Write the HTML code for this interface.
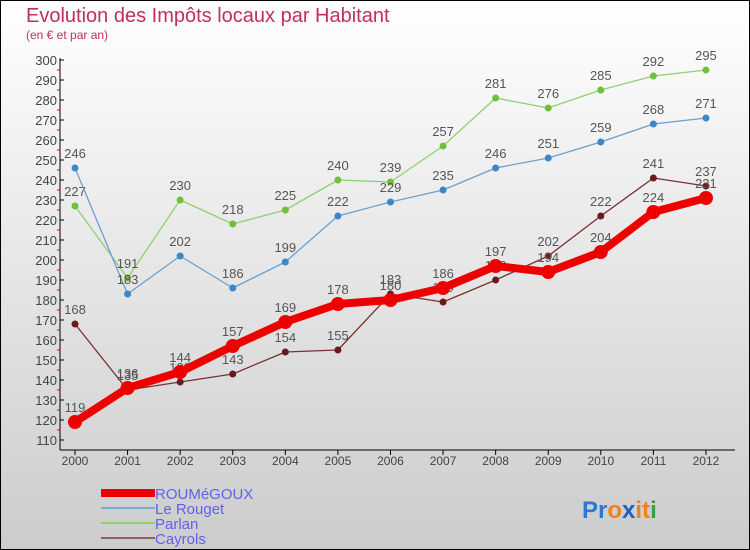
<!DOCTYPE html>
<html><head><meta charset="utf-8"><style>
body{margin:0}
#c{width:750px;height:550px;position:relative;overflow:hidden}
svg text{font-family:"Liberation Sans",sans-serif}
</style></head><body>
<div id="c">
<svg id="s" width="750" height="550" xmlns="http://www.w3.org/2000/svg">
<defs><linearGradient id="bg" x1="0" y1="0" x2="0" y2="1"><stop offset="0" stop-color="#ffffff"/><stop offset="1" stop-color="#cccccc"/></linearGradient></defs>
<rect x="0.5" y="0.5" width="749" height="549" fill="url(#bg)" stroke="#000"/>
<text x="26" y="22" font-size="20" fill="#c0305a">Evolution des Impôts locaux par Habitant</text>
<text x="26" y="39" font-size="12" fill="#c0305a">(en € et par an)</text>
<g id="axes"></g><g id="series"></g>
<g>
<rect x="101" y="489" width="54" height="8" fill="#ee0000"/>
<text x="155" y="499" font-size="15" fill="#6060ee">ROUMéGOUX</text>
<rect x="101" y="507" width="54" height="2" fill="#7aaad0"/>
<text x="155" y="514" font-size="15" fill="#6060ee">Le Rouget</text>
<rect x="101" y="522" width="54" height="2" fill="#90d070"/>
<text x="155" y="529" font-size="15" fill="#6060ee">Parlan</text>
<rect x="101" y="537" width="54" height="2" fill="#906060"/>
<text x="155" y="544" font-size="15" fill="#6060ee">Cayrols</text>
</g>
<text x="582" y="518" font-size="24" font-weight="bold"><tspan fill="#2a7ad0">Pr</tspan><tspan fill="#f08020">o</tspan><tspan fill="#2060c0">x</tspan><tspan fill="#f08020">it</tspan><tspan fill="#40a040">i</tspan></text>
</svg></div>
<script>
const years=["2000","2001","2002","2003","2004","2005","2006","2007","2008","2009","2010","2011","2012"];
const roumegoux=[119,136,144,157,169,178,180,186,197,194,204,224,231];
const leRouget=[246,183,202,186,199,222,229,235,246,251,259,268,271];
const parlan=[227,191,230,218,225,240,239,257,281,276,285,292,295];
const cayrols=[168,135,139,143,154,155,183,179,190,202,222,241,237];
const yTicks=[110,120,130,140,150,160,170,180,190,200,210,220,230,240,250,260,270,280,290,300];
const NS="http://www.w3.org/2000/svg";
const x=i=>75+i*52.58;
const y=v=>440-(v-110)*2;
function mk(t,a,p){const e=document.createElementNS(NS,t);for(const k in a)e.setAttribute(k,a[k]);p.appendChild(e);return e;}
const ax=document.getElementById('axes');
let l=mk('line',{x1:60,y1:58,x2:60,y2:450,stroke:'#000','stroke-width':1},ax);


l=mk('line',{x1:60,y1:450,x2:735,y2:450,stroke:'#000','stroke-width':1},ax);


yTicks.forEach(v=>{
 mk('line',{x1:60,y1:y(v),x2:64,y2:y(v),stroke:'#000'},ax);
 if(v<300)mk('line',{x1:57,y1:y(v+5),x2:60,y2:y(v+5),stroke:'#e00'},ax);
 const t=mk('text',{x:57,y:y(v)+5,'font-size':13,'text-anchor':'end',fill:'#444'},ax);t.textContent=v;
 
 
});
years.forEach((yr,i)=>{
 mk('line',{x1:x(i),y1:450,x2:x(i),y2:455,stroke:'#000'},ax);
 const t=mk('text',{x:x(i),y:465,'font-size':12,'text-anchor':'middle',fill:'#444'},ax);t.textContent=yr;
 
 
});
const sg=document.getElementById('series');
function draw(data,color,w,r,name,dot){
 const g=mk('g',{},sg);
 
 
 const p=mk('polyline',{points:data.map((v,i)=>x(i)+','+y(v)).join(' '),fill:'none',stroke:color,'stroke-width':w,'stroke-linejoin':'round'},g);
 
 
 data.forEach((v,i)=>{
  const c=mk('circle',{cx:x(i),cy:y(v),r:r,fill:dot},g);
  
  
  const t=mk('text',{x:x(i),y:y(v)-10,'font-size':13,'text-anchor':'middle',fill:'#555'},g);t.textContent=v;
  
  
 });
}
draw(parlan,'#90d070',1.3,3.5,'parlan','#70c040');
draw(leRouget,'#6aa0d0',1.3,3.5,'le-rouget','#3a88c8');
draw(cayrols,'#7a3030',1.3,3.5,'cayrols','#6a1a1a');
draw(roumegoux,'#ee0000',8,7,'roumegoux','#ee0000');
</script>
</body></html>
